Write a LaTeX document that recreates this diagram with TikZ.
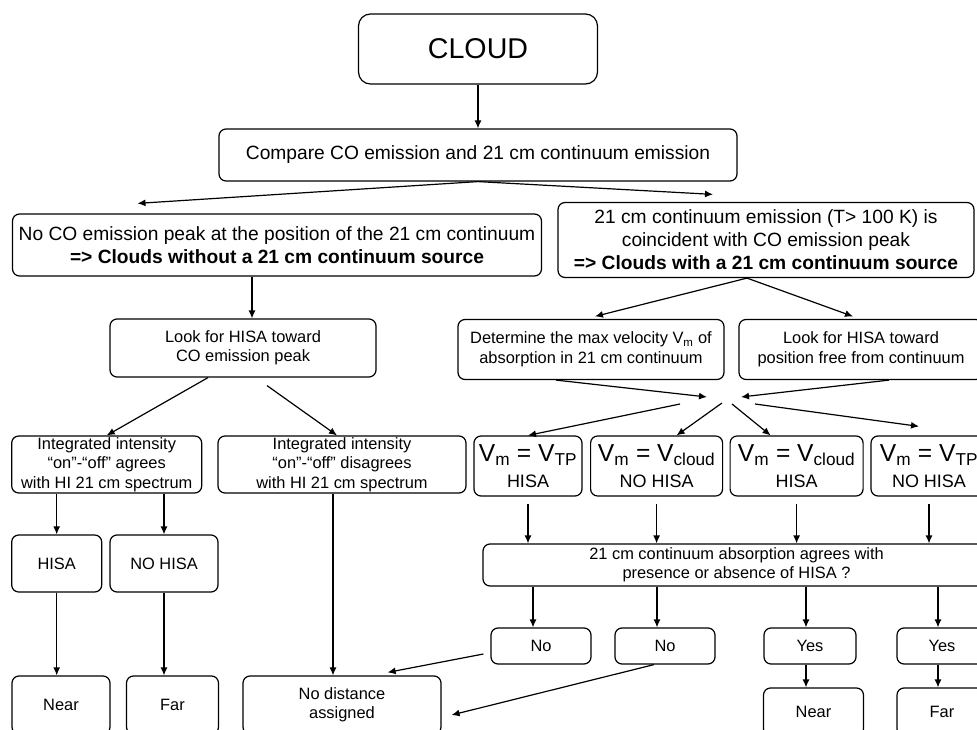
\documentclass[tikz,border=0pt]{standalone}
\usepackage{fontspec}
\setmainfont{Liberation Sans}
\usetikzlibrary{arrows.meta}

\newcommand{\cloudsz}{\fontsize{28.6pt}{32pt}\selectfont}
\newcommand{\bigsz}{\fontsize{19.2pt}{23pt}\selectfont}
\newcommand{\smallsz}{\fontsize{16.4pt}{19.5pt}\selectfont}
\newcommand{\velsz}{\fontsize{24.6pt}{26pt}\selectfont}
\newcommand{\hisasz}{\fontsize{18pt}{20pt}\selectfont}

\begin{document}
\begin{tikzpicture}[x=1pt,y=-1pt,
  box/.style={draw,rounded corners=7pt,line width=1.2pt,align=center,inner sep=0pt,font=\bigsz},
  sbox/.style={box,font=\smallsz},
  vbox/.style={box,font=\velsz},
  flow/.style={-{Latex[length=8pt,width=7pt]},line width=1.2pt}]
\useasboundingbox (0,0) rectangle (977,730);
\clip (0,0) rectangle (977,730);

\node[box,font=\cloudsz,rounded corners=12pt,minimum width=239pt,minimum height=70pt] (cloud) at (478,49) {CLOUD};
\node[box,minimum width=518pt,minimum height=52pt] (compare) at (478,155) {Compare CO emission and 21 cm continuum emission};
\node[box,minimum width=529pt,minimum height=62pt] (noco) at (277,245)
  {No CO emission peak at the position of the 21 cm continuum\\ \textbf{=> Clouds without a 21 cm continuum source}};
\node[box,minimum width=416pt,minimum height=75pt] (coright) at (766,240)
  {21 cm continuum emission (T> 100 K) is\\ coincident with CO emission peak\\ \textbf{=> Clouds with a 21 cm continuum source}};

\node[sbox,minimum width=266pt,minimum height=58pt] (lookco) at (243,348) {Look for HISA toward\\ CO emission peak};
\node[sbox,minimum width=266pt,minimum height=60pt] (determine) at (591,349.5)
  {Determine the max velocity V\textsubscript{m} of\\ absorption in 21 cm continuum};
\node[sbox,minimum width=244pt,minimum height=60pt] (lookpos) at (861,349.5) {Look for HISA toward\\ position free from continuum};

\node[sbox,minimum width=190pt,minimum height=57pt] (agree) at (106.7,464.5)
  {Integrated intensity\\ “on”-“off” agrees\\ with HI 21 cm spectrum};
\node[sbox,minimum width=248pt,minimum height=57pt] (disagree) at (342,464.5)
  {Integrated intensity\\ “on”-“off” disagrees\\ with HI 21 cm spectrum};
\node[vbox,minimum width=108pt,minimum height=60pt] (vA) at (528,466) {V\textsubscript{m} = V\textsubscript{TP}\\ {\hisasz HISA}};
\node[vbox,minimum width=132pt,minimum height=60pt] (vB) at (656.6,466) {V\textsubscript{m} = V\textsubscript{cloud}\\ {\hisasz NO HISA}};
\node[vbox,minimum width=133pt,minimum height=60pt] (vC) at (796.6,466) {V\textsubscript{m} = V\textsubscript{cloud}\\ {\hisasz HISA}};
\node[vbox,minimum width=116pt,minimum height=60pt] (vD) at (929,466) {V\textsubscript{m} = V\textsubscript{TP}\\ {\hisasz NO HISA}};

\node[sbox,minimum width=90pt,minimum height=57pt] (hisa) at (56.7,563.5) {HISA};
\node[sbox,minimum width=108pt,minimum height=57pt] (nohisa) at (164,563.5) {NO HISA};
\node[sbox,minimum width=507pt,minimum height=42pt] (agrees) at (736.5,565)
  {21 cm continuum absorption agrees with\\ presence or absence of HISA ?};

\node[sbox,minimum width=100pt,minimum height=36pt] (no1) at (541,646) {No};
\node[sbox,minimum width=100pt,minimum height=36pt] (no2) at (665,646) {No};
\node[sbox,minimum width=92pt,minimum height=36pt] (yes1) at (810,646) {Yes};
\node[sbox,minimum width=90pt,minimum height=36pt] (yes2) at (942,646) {Yes};

\node[sbox,minimum width=98pt,minimum height=58pt] (near1) at (61,705) {Near};
\node[sbox,minimum width=92pt,minimum height=58pt] (far1) at (172.5,705) {Far};
\node[sbox,minimum width=198pt,minimum height=58pt] (nodist) at (342,705) {No distance\\ assigned};
\node[sbox,minimum width=100pt,minimum height=48pt] (near2) at (813.5,712) {Near};
\node[sbox,minimum width=90pt,minimum height=48pt] (far2) at (942,712) {Far};

\coordinate (inL) at (707,397);
\coordinate (inR) at (741,397);
\coordinate (outA) at (680,404);
\coordinate (outB) at (722,403);
\coordinate (outC) at (732,404);
\coordinate (outD) at (755,404);

\draw[flow] (cloud.south) -- (compare.north);
\draw[flow] (compare.south) -- ([xshift=-139.5pt,yshift=10pt]noco.north);
\draw[flow] (compare.south) -- ([xshift=-53pt,yshift=7.5pt]coright.north);
\draw[flow] ([xshift=-25pt]noco.south) -- ([xshift=-25pt]noco.south |- lookco.north);
\draw[flow] ([xshift=-19pt]coright.south) -- ([xshift=4pt,yshift=2.5pt]determine.north);
\draw[flow] ([xshift=-19pt]coright.south) -- ([xshift=-8pt,yshift=2.5pt]lookpos.north);

\draw[flow] ([xshift=-35pt]lookco.south) -- (agree.north);
\draw[flow] ([xshift=24pt,yshift=-8pt]lookco.south) -- ([xshift=-5pt]disagree.north);
\draw[flow] (agree.south -| hisa.north) -- (hisa.north);
\draw[flow] (agree.south -| nohisa.north) -- (nohisa.north);
\draw[flow] (hisa.south) -- (hisa.south |- near1.north);
\draw[flow] (nohisa.south) -- (nohisa.south |- far1.north);
\draw[flow] ([xshift=-9pt]disagree.south) -- ([xshift=-9pt]disagree.south |- nodist.north);

\draw[flow] ([xshift=-35pt]determine.south) -- (inL);
\draw[flow] ([xshift=28pt]lookpos.south) -- (inR);
\draw[flow] (outA) -- (vA.north);
\draw[flow] (outB) -- ([xshift=20pt]vB.north);
\draw[flow] (outC) -- ([xshift=-26pt]vC.north);
\draw[flow] (outD) -- ([xshift=-10pt,yshift=9pt]vD.north);

\draw[flow,shorten <=7pt] (vA.south) -- (vA.south |- agrees.north);
\draw[flow,shorten <=7pt] (vB.south) -- (vB.south |- agrees.north);
\draw[flow,shorten <=7pt] (vC.south) -- (vC.south |- agrees.north);
\draw[flow,shorten <=7pt] (vD.south) -- (vD.south |- agrees.north);

\draw[flow] ([xshift=-8pt]no1.north |- agrees.south) -- ([xshift=-8pt]no1.north);
\draw[flow] ([xshift=-8pt]no2.north |- agrees.south) -- ([xshift=-8pt]no2.north);
\draw[flow] ([xshift=-4pt]yes1.north |- agrees.south) -- ([xshift=-4pt]yes1.north);
\draw[flow] ([xshift=-4pt]yes2.north |- agrees.south) -- ([xshift=-4pt]yes2.north);
\draw[flow] ([xshift=-4pt]yes1.south) -- ([xshift=-4pt]yes1.south |- near2.north);
\draw[flow] ([xshift=-4pt]yes2.south) -- ([xshift=-4pt]yes2.south |- far2.north);

\draw[flow] ([xshift=-7pt,yshift=-8pt]no1.west) -- ([xshift=-54pt,yshift=3pt]nodist.north east);
\draw[flow] ([xshift=-11pt]no2.south) -- ([xshift=10pt,yshift=-10pt]nodist.east);
\end{tikzpicture}
\end{document}
